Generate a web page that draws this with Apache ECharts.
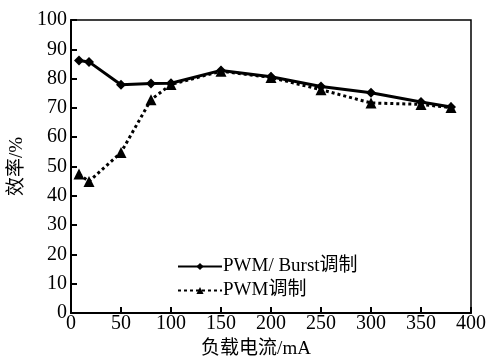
<!DOCTYPE html>
<html>
<head>
<meta charset="utf-8">
<script src="https://cdn.jsdelivr.net/npm/echarts@6/dist/echarts.min.js"></script>
<style>
  html, body { margin: 0; padding: 0; background: #fff; }
  #chart { width: 495px; height: 359px; }
</style>
</head>
<body>
<div id="chart"></div>
<script>
// 负载电流 (mA)
const loadCurrent = [8, 18, 50, 80, 100, 150, 200, 250, 300, 350, 380];
// 效率 (%)
const burstEff = [86.2, 85.7, 77.9, 78.3, 78.4, 82.8, 80.6, 77.3, 75.2, 72.0, 70.3];
const pwmEff = [47.4, 44.9, 54.8, 72.8, 78.0, 82.5, 80.4, 76.2, 71.7, 71.2, 70.1];

const seriesNames = ['PWM/ Burst调制', 'PWM调制'];
const serif = '"Liberation Serif", "Times New Roman", "Noto Sans CJK SC", serif';

const chart = echarts.init(document.getElementById('chart'));

chart.setOption({
  animation: false,
  textStyle: { fontFamily: serif, color: '#000' },
  grid: {
    left: 71, right: 24, top: 20, bottom: 46,
    outerBoundsMode: 'none',
    containLabel: false,
    show: true, borderColor: '#000', borderWidth: 1.5
  },
  legend: {
    orient: 'vertical',
    left: 172,
    top: 252,
    itemWidth: 44,
    itemHeight: 9,
    itemGap: 5,
    textStyle: { fontFamily: serif, fontSize: 19, color: '#000', padding: [0, 0, 0, -4] },
    data: seriesNames
  },
  xAxis: {
    type: 'value',
    min: 0, max: 400, interval: 50,
    name: '负载电流/mA',
    nameLocation: 'middle',
    nameGap: 27,
    nameTextStyle: { fontFamily: serif, fontSize: 19, color: '#000', padding: [0, 30, 0, 0] },
    axisLine: { lineStyle: { color: '#000', width: 2 } },
    axisTick: { inside: true, length: 6, lineStyle: { color: '#000', width: 2 } },
    axisLabel: { fontFamily: serif, fontSize: 20, color: '#000', margin: 1 },
    splitLine: { show: false }
  },
  yAxis: {
    type: 'value',
    min: 0, max: 100, interval: 10,
    name: '效率/%',
    nameLocation: 'middle',
    nameGap: 34,
    nameTextStyle: { fontFamily: serif, fontSize: 19, color: '#000' },
    axisLine: { lineStyle: { color: '#000', width: 2 } },
    axisTick: { inside: true, length: 6, lineStyle: { color: '#000', width: 2 } },
    axisLabel: { fontFamily: serif, fontSize: 20, color: '#000', margin: 4 },
    splitLine: { show: false }
  },
  series: [
    {
      name: seriesNames[0],
      type: 'line',
      data: loadCurrent.map((x, i) => [x, burstEff[i]]),
      symbol: 'diamond',
      symbolSize: 10,
      lineStyle: { color: '#000', width: 3 },
      itemStyle: { color: '#000' }
    },
    {
      name: seriesNames[1],
      type: 'line',
      data: loadCurrent.map((x, i) => [x, pwmEff[i]]),
      symbol: 'triangle',
      symbolSize: 11,
      lineStyle: { color: '#000', width: 3, type: [3, 3] },
      itemStyle: { color: '#000' }
    }
  ]
});
</script>
</body>
</html>
